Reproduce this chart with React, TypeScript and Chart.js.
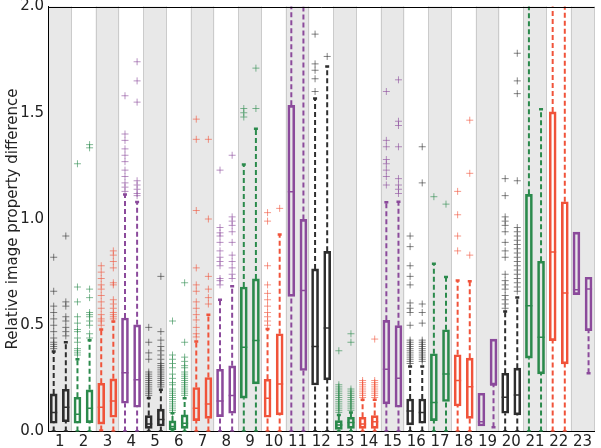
import { useEffect, useRef } from 'react';
import { Chart, registerables } from 'chart.js';

Chart.register(...registerables);

// ---------- data ----------
const categories = ['1','2','3','4','5','6','7','8','9','10','11','12','13','14','15','16','17','18','19','20','21','22','23'];
const palette = ['#2e2e2e', '#2b8a4c', '#f0533a', '#8b4a9b'];
const outlierPalette = ['rgba(50,50,50,0.6)', 'rgba(43,138,76,0.6)', 'rgba(240,83,58,0.6)', 'rgba(139,74,155,0.6)'];
const groupColor = [0,1,2,3,0,1,2,3,1,2,3,0,1,2,3,0,1,2,3,0,1,2,3];

const leftLow    = [0, 0, 0.005, 0, 0, 0, 0, 0, 0, 0, 0, 0, 0, 0, 0, 0, 0, 0, 0.026, 0, 0, 0, 0.644];
const leftQ1     = [0.039, 0.039, 0.035, 0.133, 0.015, 0.007, 0.051, 0.07, 0.157, 0.067, 0.636, 0.219, 0.01, 0.015, 0.13, 0.031, 0.051, 0.12, 0.026, 0.086, 0.345, 0.428, 0.644];
const leftMedian = [0.09, 0.081, 0.114, 0.277, 0.035, 0.023, 0.109, 0.144, 0.397, 0.157, 1.128, 0.40, 0.031, 0.035, 0.293, 0.097, 0.136, 0.24, 0.046, 0.161, 0.592, 0.845, 0.667];
const leftQ3     = [0.177, 0.161, 0.227, 0.534, 0.075, 0.05, 0.207, 0.293, 0.68, 0.246, 1.535, 0.765, 0.051, 0.067, 0.523, 0.153, 0.366, 0.361, 0.18, 0.274, 1.116, 1.504, 0.938];
const leftHigh   = [0.376, 0.34, 0.48, 1.115, 0.158, 0.086, 0.424, 0.62, 1.257, 0.482, 2.2, 1.567, 0.078, 0.15, 1.079, 0.306, 0.79, 0.711, 0.18, 0.565, 2.2, 2.2, 0.938];
const leftOutliers = [
  [0.82, 0.66, 0.59, 0.56, 0.53, 0.50, 0.47, 0.44, 0.42, 0.41, 0.40, 0.39],
  [1.26, 0.68, 0.61, 0.54, 0.51, 0.48, 0.47, 0.44, 0.42, 0.39, 0.38, 0.37, 0.36],
  [0.78, 0.75, 0.72, 0.69, 0.67, 0.64, 0.61, 0.58, 0.55, 0.53, 0.52, 0.50],
  [1.58, 1.40, 1.37, 1.33, 1.30, 1.27, 1.23, 1.20, 1.17, 1.15, 1.13],
  [0.49, 0.42, 0.37, 0.34, 0.28, 0.27, 0.26, 0.25, 0.24, 0.23, 0.22, 0.21, 0.20, 0.19, 0.18, 0.17],
  [0.52, 0.36, 0.34, 0.32, 0.30, 0.27, 0.25, 0.23, 0.22, 0.20, 0.19, 0.18, 0.17, 0.16, 0.15, 0.14, 0.13, 0.12, 0.11, 0.10, 0.09],
  [1.47, 1.375, 1.04, 0.77, 0.69, 0.66, 0.61, 0.58, 0.55, 0.525, 0.49, 0.46, 0.445],
  [1.23, 0.96, 0.935, 0.92, 0.89, 0.85, 0.82, 0.80, 0.78, 0.72, 0.71, 0.69],
  [1.52, 1.50, 1.48],
  [1.03, 0.99, 0.78, 0.69, 0.65, 0.62, 0.59, 0.56, 0.54, 0.52, 0.50],
  [],
  [1.87, 1.73, 1.70, 1.66, 1.60],
  [0.38, 0.22, 0.21, 0.20, 0.19, 0.18, 0.17, 0.16, 0.15, 0.14, 0.13, 0.12, 0.11, 0.10, 0.09],
  [0.24, 0.23, 0.22, 0.21, 0.20, 0.19, 0.18, 0.17, 0.16],
  [1.60, 1.37, 1.34, 1.28, 1.26, 1.23, 1.20, 1.16],
  [0.92, 0.87, 0.78, 0.73, 0.69, 0.605, 0.58, 0.56, 0.50, 0.43, 0.42, 0.41, 0.40, 0.39, 0.38, 0.37, 0.36, 0.35, 0.34, 0.33, 0.32],
  [1.105],
  [1.13, 1.02, 0.92, 0.85],
  [],
  [1.19, 1.11, 1.01, 0.99, 0.97, 0.94, 0.89, 0.85, 0.82, 0.74, 0.71, 0.69, 0.67, 0.64, 0.62, 0.60, 0.58],
  [],
  [],
  [],
];

const rightLow    = [0, 0, 0, 0, 0, 0, 0, 0, 0, 0, 0, 0, 0, 0, 0, 0, 0, 0, 0.02, 0, 0, 0, 0.274];
const rightQ1     = [0.046, 0.042, 0.067, 0.114, 0.026, 0.015, 0.062, 0.086, 0.224, 0.078, 0.287, 0.243, 0.015, 0.015, 0.114, 0.039, 0.141, 0.062, 0.219, 0.078, 0.271, 0.318, 0.475];
const rightMedian = [0.114, 0.109, 0.144, 0.243, 0.057, 0.039, 0.13, 0.169, 0.428, 0.223, 0.663, 0.487, 0.042, 0.046, 0.251, 0.09, 0.271, 0.211, 0.219, 0.172, 0.443, 0.652, 0.671];
const rightQ3     = [0.199, 0.196, 0.248, 0.502, 0.105, 0.078, 0.254, 0.309, 0.718, 0.46, 0.998, 0.848, 0.067, 0.075, 0.498, 0.153, 0.479, 0.345, 0.435, 0.298, 0.801, 1.081, 0.726];
const rightHigh   = [0.42, 0.43, 0.518, 1.08, 0.196, 0.157, 0.55, 0.683, 1.425, 0.927, 2.2, 1.718, 0.09, 0.15, 1.081, 0.306, 0.727, 0.707, 0.435, 0.631, 1.517, 2.2, 0.726];
const rightOutliers = [
  [0.92, 0.61, 0.59, 0.54, 0.52, 0.49, 0.47, 0.45],
  [1.35, 1.335, 0.67, 0.63, 0.56, 0.55, 0.54, 0.52, 0.50, 0.46, 0.44],
  [0.85, 0.83, 0.80, 0.77, 0.70, 0.69, 0.62, 0.60, 0.58, 0.56, 0.55, 0.54, 0.53],
  [1.74, 1.65, 1.55, 1.18, 1.16, 1.14, 1.12, 1.11],
  [0.73, 0.47, 0.43, 0.40, 0.38, 0.36, 0.34, 0.32, 0.31, 0.30, 0.29, 0.28, 0.27, 0.26, 0.25, 0.24, 0.23, 0.22, 0.21],
  [0.70, 0.42, 0.35, 0.33, 0.31, 0.30, 0.28, 0.27, 0.26, 0.25, 0.24, 0.23, 0.22, 0.21, 0.20, 0.19, 0.18, 0.17],
  [1.375, 1.0, 0.73, 0.67, 0.63, 0.60],
  [1.30, 1.01, 0.99, 0.97, 0.94, 0.89, 0.83, 0.80, 0.77, 0.74, 0.72],
  [1.71, 1.52],
  [1.05],
  [],
  [1.765],
  [0.46, 0.42, 0.20, 0.19, 0.18, 0.17, 0.16, 0.15, 0.14, 0.13, 0.12, 0.11, 0.10],
  [0.435, 0.24, 0.23, 0.22, 0.21, 0.20, 0.19, 0.18, 0.17, 0.16],
  [1.655, 1.46, 1.44, 1.34, 1.19, 1.16, 1.14, 1.12],
  [1.34, 1.17, 0.60, 0.56, 0.51, 0.43, 0.42, 0.41, 0.40, 0.39, 0.38, 0.37, 0.36, 0.35, 0.34, 0.33],
  [1.07],
  [1.465, 1.215, 0.83],
  [],
  [1.78, 1.65, 1.59, 1.18, 0.96, 0.94, 0.92, 0.90, 0.88, 0.86, 0.84, 0.82, 0.80, 0.78, 0.76, 0.74, 0.72, 0.70, 0.68, 0.66],
  [],
  [],
  [],
];

const yTicks = [0, 0.5, 1.0, 1.5, 2.0];
const yTitle = 'Relative image property difference';

// ---------- layout constants ----------
const LEFT_OFFSET = -0.26;
const RIGHT_OFFSET = 0.25;
const FONT = 'DejaVu Sans';

function buildConfig(): any {
  const sides = [
    { low: leftLow, q1: leftQ1, med: leftMedian, q3: leftQ3, high: leftHigh, out: leftOutliers, off: LEFT_OFFSET },
    { low: rightLow, q1: rightQ1, med: rightMedian, q3: rightQ3, high: rightHigh, out: rightOutliers, off: RIGHT_OFFSET },
  ];
  const boxData: any[] = [];
  const boxColors: string[] = [];
  const medData: any[] = [];
  const medColors: string[] = [];
  const capData: any[] = [];
  const capColors: string[] = [];
  const whiskerSets: any[] = [];
  const outlierData: any[][] = [[], [], [], []];

  sides.forEach((s) => {
    categories.forEach((_, i) => {
      const x = i + 1 + s.off;
      const c = groupColor[i];
      boxData.push({ x, y: [s.q1[i], s.q3[i]] });
      boxColors.push(palette[c]);
      medData.push({ x, y: s.med[i] });
      medColors.push(palette[c]);
      const pts: any[] = [];
      if (s.low[i] < s.q1[i]) {
        pts.push({ x, y: s.low[i] }, { x, y: s.q1[i] });
        capData.push({ x, y: s.low[i] });
        capColors.push(palette[c]);
      }
      pts.push({ x, y: null });
      if (s.high[i] > s.q3[i]) {
        pts.push({ x, y: s.q3[i] }, { x, y: s.high[i] });
        capData.push({ x, y: s.high[i] });
        capColors.push(palette[c]);
      }
      whiskerSets.push({
        type: 'line',
        data: pts,
        borderColor: palette[c],
        borderWidth: 2,
        borderDash: [5, 3],
        pointRadius: 0,
        spanGaps: false,
        order: 5,
      });
      s.out[i].forEach((v) => outlierData[c].push({ x, y: v }));
    });
  });

  const datasets: any[] = [
    ...whiskerSets,
    {
      type: 'bar',
      data: boxData,
      borderColor: boxColors,
      backgroundColor: 'rgba(0,0,0,0)',
      borderWidth: 2,
      borderSkipped: false,
      barThickness: 7,
      order: 4,
    },
    {
      type: 'scatter',
      data: medData,
      pointStyle: 'line',
      pointRadius: 3.5,
      pointBorderWidth: 1.5,
      pointBorderColor: medColors,
      order: 3,
    },
    {
      type: 'scatter',
      data: capData,
      pointStyle: 'line',
      pointRadius: 2,
      pointBorderWidth: 2.5,
      pointBorderColor: capColors,
      order: 3,
    },
    ...outlierData.map((d, c) => ({
      type: 'scatter',
      data: d,
      pointStyle: 'cross',
      pointRadius: 3.5,
      pointBorderWidth: 1,
      pointBorderColor: outlierPalette[c],
      order: 2,
    })),
  ];

  const bandPlugin = {
    id: 'bands',
    beforeDraw(chart: any) {
      const { ctx, chartArea, scales } = chart;
      const xs = scales.x;
      const { top, bottom } = chartArea;
      ctx.save();
      categories.forEach((_, i) => {
        if (i % 2 === 0) {
          const l = xs.getPixelForValue(i + 0.5);
          const r = xs.getPixelForValue(i + 1.5);
          ctx.fillStyle = '#e8e8e8';
          ctx.fillRect(l, top, r - l, bottom - top);
          ctx.strokeStyle = '#cbcbcb';
          ctx.lineWidth = 1;
          ctx.beginPath();
          ctx.moveTo(Math.round(l) + 0.5, top);
          ctx.lineTo(Math.round(l) + 0.5, bottom);
          ctx.moveTo(Math.round(r) - 0.5, top);
          ctx.lineTo(Math.round(r) - 0.5, bottom);
          ctx.stroke();
        }
      });
      ctx.restore();
    },
    afterDraw(chart: any) {
      const { ctx, chartArea } = chart;
      ctx.save();
      ctx.strokeStyle = '#000';
      ctx.lineWidth = 1;
      ctx.beginPath();
      const y = Math.round(chartArea.top) + 0.5;
      ctx.moveTo(chartArea.left, y);
      ctx.lineTo(chartArea.right, y);
      ctx.stroke();
      ctx.restore();
    },
  };

  return {
    type: 'bar',
    data: { datasets },
    plugins: [bandPlugin],
    options: {
      responsive: false,
      animation: false,
      events: [],
      layout: { padding: { top: 6.5, right: 0, left: 0, bottom: 0 } },
      plugins: { legend: { display: false }, tooltip: { enabled: false } },
      scales: {
        x: {
          type: 'linear',
          min: 0.5,
          max: 23.5,
          offset: false,
          grid: { display: false, drawTicks: false },
          border: { display: true, color: '#000', width: 1 },
          afterBuildTicks: (scale: any) => {
            scale.ticks = categories.map((_, i) => ({ value: i + 1 }));
          },
          afterFit: (scale: any) => {
            scale.height = 16.5;
            scale.paddingLeft = 0;
            scale.paddingRight = 0;
          },
          ticks: {
            autoSkip: false,
            maxRotation: 0,
            padding: 2,
            color: '#222',
            font: { family: FONT, size: 15 },
            callback: (_v: any, index: number) => categories[index],
          },
        },
        y: {
          type: 'linear',
          min: 0,
          max: 2,
          grid: { display: false, drawTicks: false },
          border: { display: true, color: '#000', width: 1 },
          afterBuildTicks: (scale: any) => {
            scale.ticks = yTicks.map((v) => ({ value: v }));
          },
          afterFit: (scale: any) => {
            scale.width = 48;
            scale.paddingTop = 0;
            scale.paddingBottom = 0;
          },
          ticks: {
            padding: 4,
            color: '#222',
            font: { family: FONT, size: 15, lineHeight: 1 },
            callback: (v: any) => Number(v).toFixed(1),
          },
          title: {
            display: true,
            text: yTitle,
            color: '#222',
            font: { family: FONT, size: 15 },
            padding: { top: 4, bottom: 0 },
          },
        },
      },
    },
  };
}

export default function App() {
  const ref = useRef<HTMLCanvasElement>(null);
  useEffect(() => {
    if (!ref.current) return;
    const chart = new Chart(ref.current, buildConfig());
    return () => chart.destroy();
  }, []);
  return (
    <div style={{ position: 'fixed', left: 0, top: 0, width: 601, height: 448, background: '#fff' }}>
      <canvas ref={ref} width={601} height={448} style={{ display: 'block', width: 601, height: 448 }} />
    </div>
  );
}
